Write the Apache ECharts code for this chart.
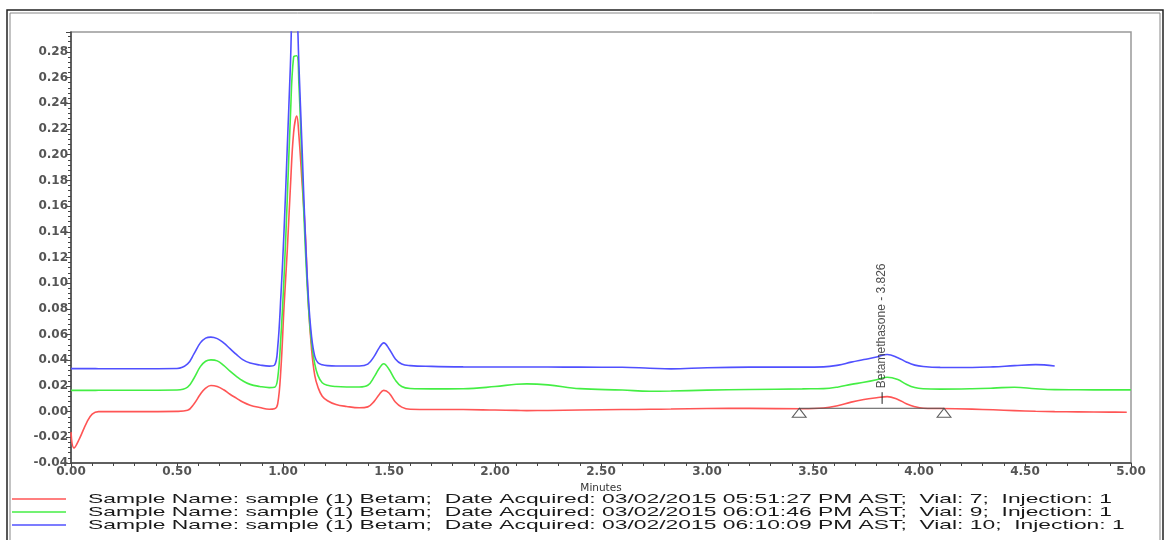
<!DOCTYPE html>
<html>
<head>
<meta charset="utf-8" />
<script src="https://cdn.jsdelivr.net/npm/echarts@6/dist/echarts.min.js"></script>
<style>
  html, body { margin: 0; padding: 0; background: #fff; }
  #chart { width: 1168px; height: 540px; }
</style>
</head>
<body>
<div id="chart"></div>
<script>
// retention time (minutes), shared by the three traces
const times = [0, 0.014, 0.04, 0.074, 0.10, 0.13, 0.30, 0.50, 0.55, 0.58,
  0.61, 0.635, 0.66, 0.69, 0.72, 0.75, 0.78, 0.81, 0.845, 0.89,
  0.935, 0.96, 0.975, 0.99, 1.005, 1.02, 1.035, 1.05, 1.065, 1.075,
  1.09, 1.105, 1.12, 1.135, 1.15, 1.165, 1.185, 1.21, 1.25, 1.30,
  1.36, 1.40, 1.43, 1.455, 1.475, 1.50, 1.53, 1.56, 1.60, 1.70,
  1.85, 2.00, 2.10, 2.15, 2.25, 2.40, 2.60, 2.73, 2.83, 3.00,
  3.20, 3.45, 3.55, 3.62, 3.68, 3.74, 3.80, 3.85, 3.90, 3.94,
  3.98, 4.02, 4.10, 4.25, 4.35, 4.45, 4.55, 4.64, 4.75, 4.90,
  4.98, 5.00];

// absorbance (AU), vial 7
const redAbs = [-0.016, -0.0283, -0.021, -0.0085, -0.002, 0.0, 0.0, 0.0002, 0.001, 0.006,
  0.0135, 0.0183, 0.0203, 0.0195, 0.017, 0.0135, 0.0105, 0.0075, 0.005, 0.0032,
  0.0018, 0.0022, 0.006, 0.033, 0.082, 0.125, 0.175, 0.217, 0.230, 0.215,
  0.178, 0.14, 0.083, 0.048, 0.028, 0.019, 0.012, 0.0085, 0.0055, 0.004,
  0.003, 0.0037, 0.008, 0.0135, 0.0165, 0.0145, 0.0075, 0.0035, 0.0018, 0.0016,
  0.0016, 0.0012, 0.001, 0.0008, 0.0009, 0.0012, 0.0016, 0.0018, 0.002, 0.0024,
  0.0025, 0.0022, 0.0028, 0.0048, 0.0074, 0.0094, 0.0108, 0.0117, 0.0095, 0.0062,
  0.0038, 0.0026, 0.0024, 0.0019, 0.0014, 0.0008, 0.0003, 0.0, -0.0002, -0.0004,
  -0.0005, null];

// vial 9
const greenAbs = [0.0165, 0.0165, 0.0165, 0.0165, 0.0165, 0.0166, 0.0166, 0.0168, 0.019, 0.026,
  0.035, 0.0392, 0.0403, 0.0395, 0.036, 0.0315, 0.0275, 0.024, 0.0212, 0.0196,
  0.0187, 0.0189, 0.026, 0.058, 0.105, 0.165, 0.23, 0.276, 0.277, 0.255,
  0.19, 0.128, 0.082, 0.053, 0.037, 0.028, 0.0225, 0.0205, 0.0195, 0.0192,
  0.0192, 0.0205, 0.027, 0.034, 0.0373, 0.033, 0.0245, 0.0195, 0.018, 0.0177,
  0.0178, 0.0195, 0.0213, 0.0216, 0.0208, 0.0179, 0.0168, 0.0158, 0.016, 0.0167,
  0.0172, 0.0177, 0.0179, 0.0192, 0.0212, 0.0228, 0.0248, 0.0268, 0.025, 0.0213,
  0.0187, 0.0178, 0.0175, 0.0178, 0.0183, 0.019, 0.0178, 0.0171, 0.017, 0.0169,
  0.0169, 0.0169];

// vial 10
const blueAbs = [0.0335, 0.0335, 0.0335, 0.0335, 0.0335, 0.0334, 0.0334, 0.0336, 0.0372, 0.045,
  0.0535, 0.0572, 0.058, 0.0568, 0.0535, 0.049, 0.0445, 0.0405, 0.0378, 0.0363,
  0.0354, 0.0362, 0.05, 0.09, 0.141, 0.205, 0.27, 0.34, 0.315, 0.27,
  0.205, 0.138, 0.088, 0.058, 0.043, 0.038, 0.0365, 0.0358, 0.0355, 0.0355,
  0.0355, 0.037, 0.043, 0.050, 0.0535, 0.049, 0.041, 0.037, 0.0358, 0.0352,
  0.0348, 0.0347, 0.0347, 0.0347, 0.0347, 0.0346, 0.0345, 0.0338, 0.0333, 0.0342,
  0.0346, 0.0346, 0.0348, 0.0362, 0.0385, 0.0405, 0.0425, 0.0445, 0.042, 0.0387,
  0.0362, 0.0351, 0.0344, 0.0343, 0.0348, 0.0358, 0.0366, 0.0355, null, null,
  null, null];

const traceNames = [
  'Sample Name: sample (1) Betam;  Date Acquired: 03/02/2015 05:51:27 PM AST;  Vial: 7;  Injection: 1',
  'Sample Name: sample (1) Betam;  Date Acquired: 03/02/2015 06:01:46 PM AST;  Vial: 9;  Injection: 1',
  'Sample Name: sample (1) Betam;  Date Acquired: 03/02/2015 06:10:09 PM AST;  Vial: 10;  Injection: 1'
];
const traceColors = ['#ff5555', '#44ee44', '#5050ff'];

// integration of the Betamethasone peak
const peakName = 'Betamethasone - 3.826';
const peakTime = 3.826;
const peakTick = [0.006, 0.0151];
const baseStart = [3.435, 0.0026];
const baseEnd = [4.118, 0.0026];

function pairs(arr) {
  const out = [];
  times.forEach((t, i) => {
    if (arr[i] !== null) out.push([t, arr[i]]);
  });
  return out;
}

const chart = echarts.init(document.getElementById('chart'));

// legend text in the source is stretched wide, so scale it to fit
const legendFont = '13.5px "Liberation Sans", Arial, sans-serif';
const ctx = document.createElement('canvas').getContext('2d');
ctx.font = legendFont;
const legendScale = 1024 / ctx.measureText(traceNames[0]).width;

const legendItems = [];
traceNames.forEach((name, i) => {
  const y = 499 + i * 13;
  legendItems.push({
    type: 'line',
    shape: { x1: 12, y1: y, x2: 66, y2: y },
    style: { stroke: traceColors[i], lineWidth: 1.5 }
  });
  legendItems.push({
    type: 'text',
    x: 88,
    y: y,
    scaleX: legendScale,
    style: { text: name, font: legendFont, fill: '#1a1a1a', verticalAlign: 'middle' }
  });
});

const axisFont = { fontFamily: 'DejaVu Sans', fontSize: 12, fontWeight: 'bold', color: '#555' };

function traceSeries(i, arr) {
  return {
    name: traceNames[i], type: 'line', data: pairs(arr),
    symbol: 'none', smooth: 0.4,
    lineStyle: { color: traceColors[i], width: 1.6 }
  };
}

const option = {
  animation: false,
  backgroundColor: '#fff',
  grid: {
    left: 71, right: 37, top: 32, bottom: 77,
    show: true, borderColor: '#999', borderWidth: 1.5
  },
  xAxis: {
    type: 'value',
    min: 0, max: 5, interval: 0.5,
    name: 'Minutes',
    nameLocation: 'middle',
    nameGap: 19,
    nameTextStyle: { fontFamily: 'DejaVu Sans', fontSize: 10.5, color: '#333' },
    axisLine: { onZero: false, lineStyle: { color: '#444', width: 1.5 } },
    axisTick: { length: 5, lineStyle: { color: '#444' } },
    minorTick: { show: true, splitNumber: 5, length: 3, lineStyle: { color: '#444' } },
    splitLine: { show: false },
    axisLabel: Object.assign({ margin: 3, formatter: v => v.toFixed(2) }, axisFont)
  },
  yAxis: {
    type: 'value',
    min: -0.04, max: 0.2955, interval: 0.02,
    axisLine: { show: true, lineStyle: { color: '#444', width: 1.5 } },
    axisTick: { show: true, length: 5, lineStyle: { color: '#444' } },
    minorTick: { show: true, splitNumber: 5, length: 3, lineStyle: { color: '#444' } },
    splitLine: { show: false },
    axisLabel: Object.assign({ margin: 3, showMaxLabel: false, formatter: v => v.toFixed(2) }, axisFont)
  },
  series: [
    traceSeries(0, redAbs),
    traceSeries(1, greenAbs),
    traceSeries(2, blueAbs),
    // integration baseline
    {
      type: 'line', data: [baseStart, baseEnd], symbol: 'none',
      lineStyle: { color: '#555', width: 1 }, z: 3, silent: true
    },
    {
      type: 'scatter', data: [baseStart, baseEnd],
      symbol: 'triangle', symbolSize: [14, 9], symbolOffset: [0, 4.5],
      itemStyle: { color: '#fff', borderColor: '#333', borderWidth: 1 }, z: 4, silent: true
    },
    // peak tick and name
    {
      type: 'line', data: [[peakTime, peakTick[0]], [peakTime, peakTick[1]]], symbol: 'none',
      lineStyle: { color: '#222', width: 1 }, z: 4, silent: true
    },
    {
      type: 'scatter', data: [[peakTime, peakTick[1]]], symbolSize: 0, z: 4, silent: true,
      label: {
        show: true, formatter: peakName, position: 'top', distance: 4,
        rotate: 90, align: 'left', verticalAlign: 'middle',
        fontFamily: 'Liberation Sans', fontSize: 12, color: '#222'
      }
    }
  ],
  graphic: [
    // double frame round the whole report
    { type: 'rect', shape: { x: 7, y: 10, width: 1156, height: 545 }, style: { fill: null, stroke: '#222', lineWidth: 1.5 } },
    { type: 'rect', shape: { x: 10, y: 13, width: 1150, height: 545 }, style: { fill: null, stroke: '#888', lineWidth: 1 } }
  ].concat(legendItems)
};

chart.setOption(option);
</script>
</body>
</html>
